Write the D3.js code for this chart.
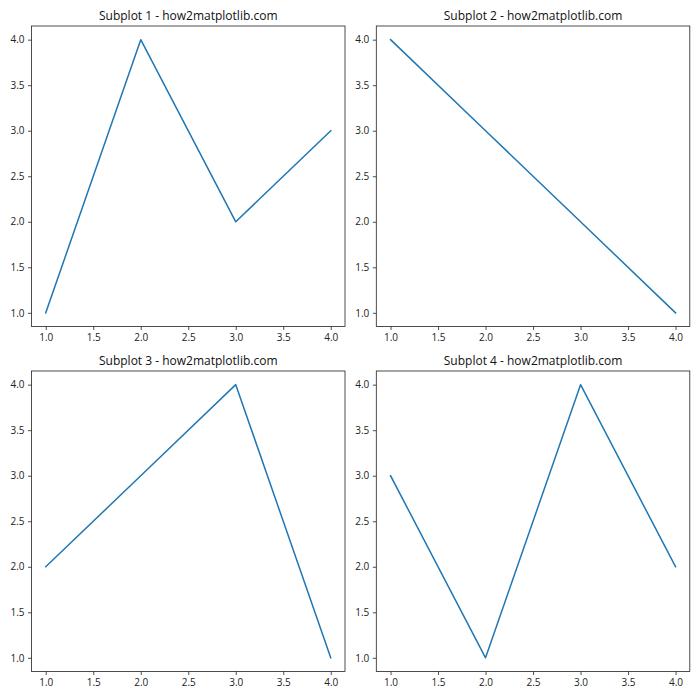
<!DOCTYPE html>
<html><head><meta charset="utf-8">
<script src="https://cdn.jsdelivr.net/npm/d3@7"></script>
<style>body{margin:0;background:#fff}svg{display:block}</style>
</head><body>
<script>
const xValues = [1, 2, 3, 4];
const series1 = [1, 4, 2, 3];
const series2 = [4, 3, 2, 1];
const series3 = [2, 3, 4, 1];
const series4 = [3, 1, 4, 2];
const titles = ["Subplot 1 - how2matplotlib.com","Subplot 2 - how2matplotlib.com","Subplot 3 - how2matplotlib.com","Subplot 4 - how2matplotlib.com"];
const tickValues = [1.0, 1.5, 2.0, 2.5, 3.0, 3.5, 4.0];

const allSeries = [series1, series2, series3, series4];
const svg = d3.select("body").append("svg").attr("width",700).attr("height",700);
const lefts = [31.5, 376.3], tops = [26, 371];
const W = 313.5, H = 300.5;
const font = "'Open Sans', 'Noto Sans', sans-serif";

allSeries.forEach((ys, i) => {
  const col = i % 2, row = Math.floor(i / 2);
  const g = svg.append("g").attr("transform", `translate(${lefts[col]},${tops[row]})`);
  const pad = 0.05 * 3;
  const x = d3.scaleLinear().domain([1 - pad, 4 + pad]).range([0, W]);
  const y = d3.scaleLinear().domain([1 - pad, 4 + pad]).range([H, 0]);
  const xa = g.append("g").attr("transform", `translate(0,${H})`)
    .call(d3.axisBottom(x).tickValues(tickValues).tickFormat(d3.format(".1f")).tickSize(3.5).tickPadding(3.5));
  const ya = g.append("g")
    .call(d3.axisLeft(y).tickValues(tickValues).tickFormat(d3.format(".1f")).tickSize(3.5).tickPadding(3.5));
  [xa, ya].forEach(a => {
    a.select(".domain").remove();
    a.selectAll("text").attr("font-family", font).attr("font-size", 10).attr("fill", "#222");
    a.selectAll("line").attr("stroke", "#222").attr("stroke-width", 0.8);
  });
  g.append("path").datum(ys)
    .attr("fill", "none").attr("stroke", "#1f77b4").attr("stroke-width", 1.5)
    .attr("stroke-linejoin", "round").attr("stroke-linecap", "square")
    .attr("d", d3.line().x((d, j) => x(xValues[j])).y(d => y(d)));
  g.append("rect").attr("width", W).attr("height", H)
    .attr("fill", "none").attr("stroke", "#222").attr("stroke-width", 0.8);
  g.append("text").attr("x", W / 2).attr("y", -6).attr("text-anchor", "middle")
    .attr("font-family", font).attr("font-size", 12).attr("fill", "#111").text(titles[i]);
});
</script>
</body></html>
